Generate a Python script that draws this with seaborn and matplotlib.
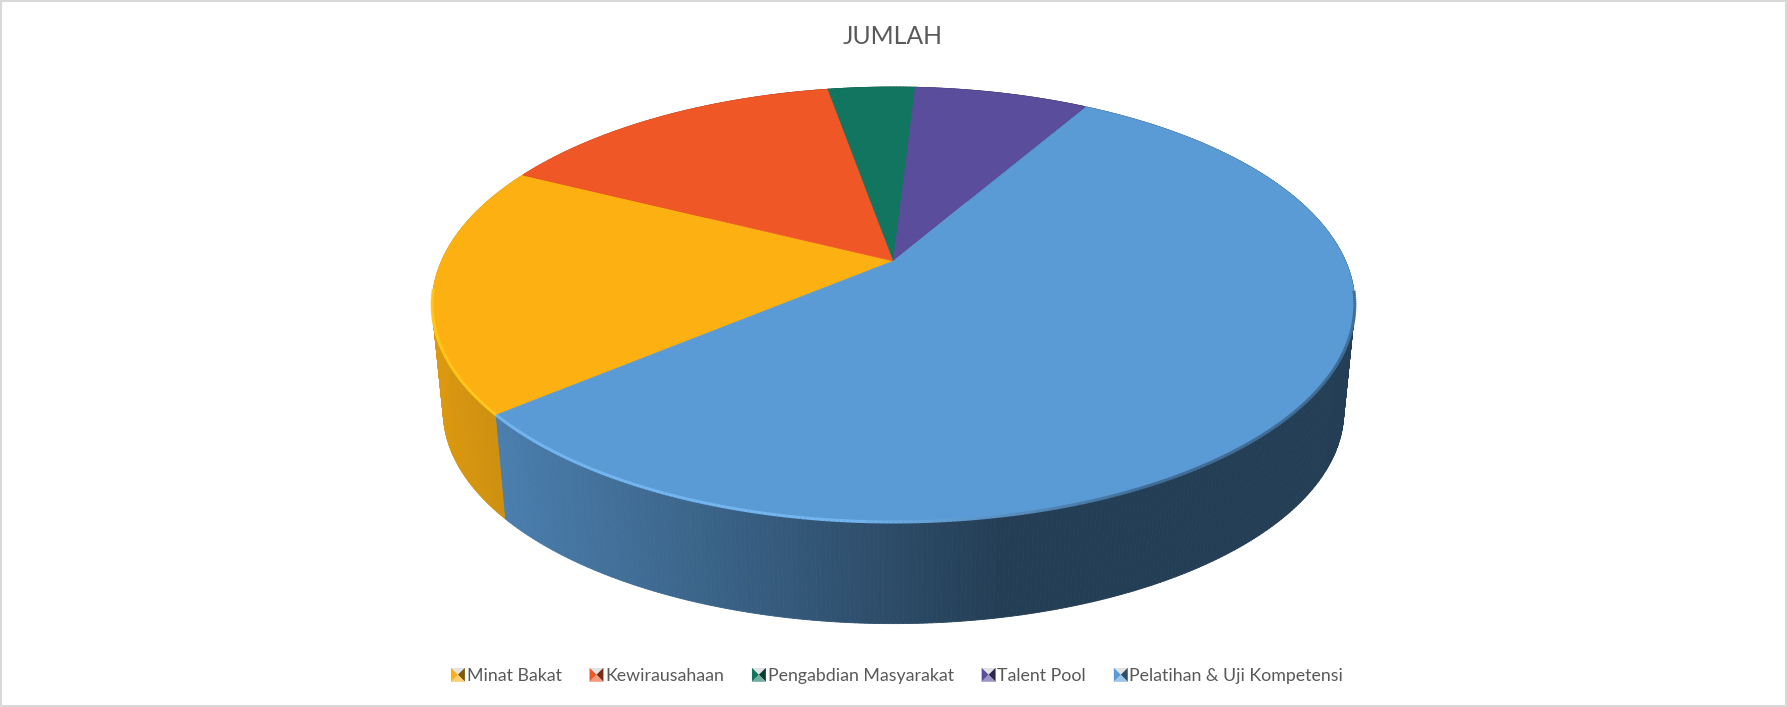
import numpy as np
import matplotlib
matplotlib.use("Agg")
import matplotlib.pyplot as plt
import seaborn as sns
from matplotlib.collections import LineCollection, PolyCollection
from matplotlib.legend_handler import HandlerBase
from matplotlib.patches import Patch, Polygon, Rectangle

# Data
categories = ["Minat Bakat", "Kewirausahaan", "Pengabdian Masyarakat", "Talent Pool", "Pelatihan & Uji Kompetensi"]
values = [5, 4, 1, 2, 15]
colors = ["#FDB012", "#EF5726", "#127560", "#5A4D9C", "#5B9BD5"]
rim_colors = ["#FFC81A", "#F8683A", "#1A8A72", "#6A5DB0", "#74B6F0"]
title = "JUMLAH"

# Projection of the 3D pie, in figure pixels
first_angle = 230
cx, cy = 893.5, 261
A, B, p = 452.0, 208.8, 0.2
vanish_y, depth_scale = 4757, 0.976

sns.set_theme(style="white")
plt.rcParams["font.family"] = ["Lato", "DejaVu Sans"]


def project(theta):
    u = np.sin(np.radians(theta))
    v = -np.cos(np.radians(theta))
    w = 1 - p * v
    return cx + A * u / w, cy + B * v / w


def drop(x, y):
    # top edge -> bottom edge of the wall
    return cx + (x - cx) * depth_scale, vanish_y - (vanish_y - y) * depth_scale


def shade(x):
    return np.interp(x, [430, 1000], [0.87, 0.40])


class KeyHandler(HandlerBase):
    def create_artists(self, legend, orig, xd, yd, width, height, fontsize, trans):
        c = np.array(matplotlib.colors.to_rgb(orig.get_facecolor()))
        x0 = -xd + width - 10
        y0 = -yd + height / 2 - 5
        s = 10
        mid = (x0 + s / 2, y0 + s / 2)
        # pale top and bottom, coloured left, dark right
        bg = Rectangle((x0, y0), s, s, fc="#E3E3E3", ec="none", transform=trans)
        left = Polygon([(x0, y0), mid, (x0, y0 + s)], fc=c, ec="none", transform=trans)
        right = Polygon([(x0 + s, y0), mid, (x0 + s, y0 + s)], fc=c * 0.5, ec="none", transform=trans)
        bottom = Polygon([(x0, y0), mid, (x0 + s, y0)], fc=c * 0.6 + 0.4, ec="none", transform=trans)
        return [bg, left, right, bottom]


fig, ax = plt.subplots(figsize=(17.87, 7.07), dpi=100)
ax.set_position([0, 0, 1, 1])
ax.set_xlim(0, 1787)
ax.set_ylim(707, 0)
ax.axis("off")

angles = first_angle + np.concatenate([[0], np.cumsum(values)]) / np.sum(values) * 360

# Side walls
for i, c in enumerate(colors):
    th = np.arange(angles[i], angles[i + 1] + 0.25, 0.5)
    x, y = project(th)
    xb, yb = drop(x, y)
    quads = [[(x[k], y[k]), (x[k + 1], y[k + 1]), (xb[k + 1], yb[k + 1]), (xb[k], yb[k])]
             for k in range(len(th) - 1)]
    base = np.array(matplotlib.colors.to_rgb(c))
    fc = [base * shade(x[k]) for k in range(len(th) - 1)]
    ax.add_collection(PolyCollection(quads, facecolors=fc, edgecolors=fc, linewidths=0.6))

# Top face
for i, c in enumerate(colors):
    th = np.arange(angles[i], angles[i + 1] + 0.25, 0.5)
    x, y = project(th)
    pts = np.column_stack([np.r_[cx, x], np.r_[cy, y]])
    ax.add_patch(Polygon(pts, closed=True, fc=c, ec=c, lw=0.5))

# Bevel along the rim
for i, c in enumerate(colors):
    th = np.arange(angles[i], angles[i + 1] + 0.25, 0.5)
    x, y = project(th)
    segs = [[(x[k], y[k]), (x[k + 1], y[k + 1])] for k in range(len(th) - 1) if y[k] > 290]
    if not segs:
        continue
    base = np.array(matplotlib.colors.to_rgb(c))
    rim = np.array(matplotlib.colors.to_rgb(rim_colors[i]))
    seg_colors = []
    for s in segs:
        t = np.interp(s[0][0], [850, 1150], [0, 1])
        seg_colors.append(rim * (1 - t) + base * 0.7 * t)
    ax.add_collection(LineCollection(segs, colors=seg_colors, linewidths=2.2))

ax.text(893, 36, title, ha="center", va="center", fontsize=17.8, color="#595959")

handles = [Patch(facecolor=c, label=n) for c, n in zip(colors, categories)]
ax.legend(handles=handles, handler_map={Patch: KeyHandler()}, ncols=5, loc="center",
          bbox_to_anchor=(897 / 1787, 1 - 676 / 707), frameon=False, fontsize=12.8,
          labelcolor="#595959", handlelength=0.8, handletextpad=0.1, columnspacing=1.55)

# Chart frame
ax.add_patch(Rectangle((1, 1), 1785, 705, fc="none", ec="#D9D9D9", lw=1.5))

fig.savefig("out.png", dpi=100)
